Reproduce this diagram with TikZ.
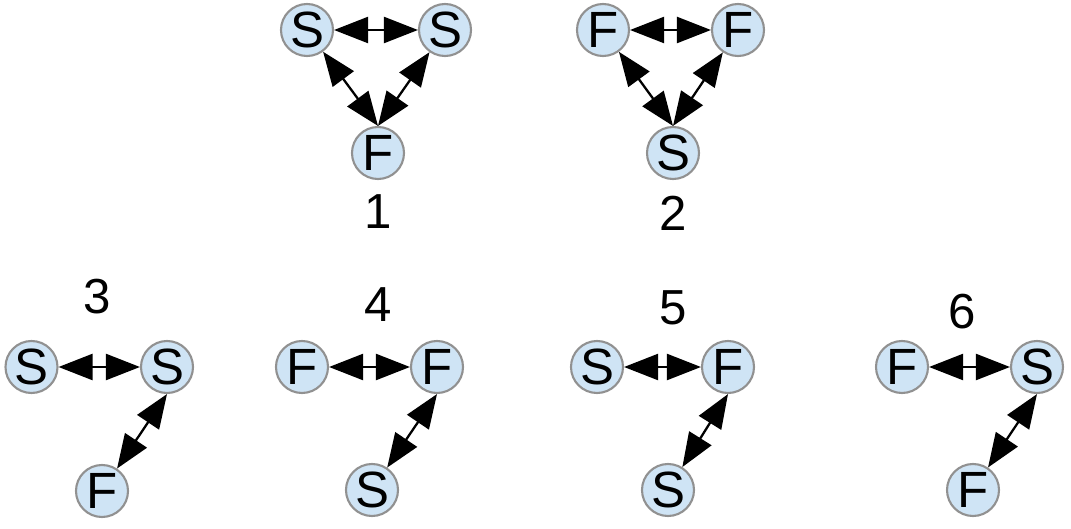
\documentclass[tikz,border=0pt]{standalone}
\usepackage{fontspec}
\setmainfont{Liberation Sans}
\usetikzlibrary{arrows.meta}
\definecolor{NodeFill}{RGB}{207,228,245}
\definecolor{NodeRim}{RGB}{145,145,145}
\tikzset{
  agent/.style={circle,draw=NodeRim,line width=1.2pt,fill=NodeFill,minimum size=1.04cm,inner sep=0pt,font=\fontsize{29}{31}\selectfont},
  caption/.style={font=\fontsize{28}{30}\selectfont},
  link/.style={{Triangle[length=0.68cm,width=0.52cm]}-{Triangle[length=0.68cm,width=0.52cm]},line width=1.3pt,draw=black}
}
\begin{document}
\begin{tikzpicture}[x=1cm,y=1cm]
  \useasboundingbox (0,0) rectangle (21.42,10.56);
  % triad 1
  \node[agent] (a1) at (6.14,9.96) {S};
  \node[agent] (b1) at (8.90,9.96) {S};
  \node[agent] (c1) at (7.56,7.50) {F};
  \node[caption] (n1) at (7.56,6.32) {1};
  \draw[link] (a1)--(b1);
  \draw[link] (a1)--(c1.north);
  \draw[link] (b1)--(c1.north);
  % triad 2
  \node[agent] (a2) at (12.06,9.96) {F};
  \node[agent] (b2) at (14.76,9.96) {F};
  \node[agent] (c2) at (13.46,7.50) {S};
  \node[caption] (n2) at (13.46,6.30) {2};
  \draw[link] (a2)--(b2);
  \draw[link] (a2)--(c2.north);
  \draw[link] (b2)--(c2.north);
  % pairs with a third node
  \node[agent] (a3) at (0.63,3.22) {S};
  \node[agent] (b3) at (3.34,3.22) {S};
  \node[agent] (c3) at (2.04,0.74) {F};
  \node[caption] (n3) at (1.94,4.62) {3};
  \draw[link] (a3)--(b3);
  \draw[link] (c3)--(b3.south);
  \node[agent] (a4) at (6.04,3.22) {F};
  \node[agent] (b4) at (8.74,3.22) {F};
  \node[agent] (c4) at (7.44,0.76) {S};
  \node[caption] (n4) at (7.56,4.46) {4};
  \draw[link] (a4)--(b4);
  \draw[link] (c4)--(b4.south);
  \node[agent] (a5) at (11.94,3.22) {S};
  \node[agent] (b5) at (14.56,3.22) {F};
  \node[agent] (c5) at (13.36,0.76) {S};
  \node[caption] (n5) at (13.46,4.40) {5};
  \draw[link] (a5)--(b5);
  \draw[link] (c5)--(b5.south);
  \node[agent] (a6) at (18.04,3.22) {F};
  \node[agent] (b6) at (20.74,3.22) {S};
  \node[agent] (c6) at (19.46,0.76) {F};
  \node[caption] (n6) at (19.24,4.32) {6};
  \draw[link] (a6)--(b6);
  \draw[link] (c6)--(b6.south);
\end{tikzpicture}
\end{document}
